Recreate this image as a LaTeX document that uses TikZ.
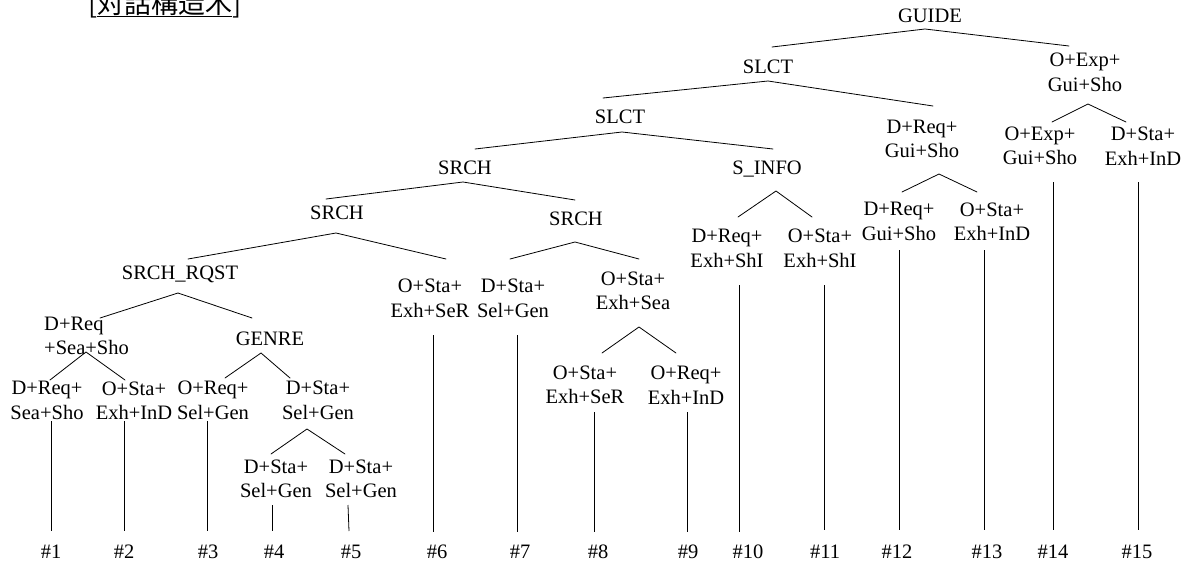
\documentclass[tikz,border=0pt]{standalone}
\usepackage{fontspec}
\setmainfont{Liberation Serif}
\newfontfamily\jpfont{Noto Sans CJK JP}
\begin{document}
\begin{tikzpicture}[x=1pt,y=-1pt,
  lab/.style={font=\fontsize{20.5}{24.5}\selectfont, inner sep=0pt, align=center},
  one/.style={lab, text height=13.6pt, text depth=0pt},
  edge/.style={line width=0.8pt, line cap=round}]
\useasboundingbox (0,0) rectangle (1187,565);

% title
\node[anchor=base west, inner sep=0pt, font=\jpfont\fontsize{27}{30}\selectfont] (title) at (88,13) {[\underline{対話構造木}]};

% inner nodes
\node[one] (guide) at (930,16) {GUIDE};
\node[lab] (oexpa) at (1085,72.5) {O+Exp+\\Gui+Sho};
\node[one] (slcta) at (768,67) {SLCT};
\node[one] (slctb) at (620,117) {SLCT};
\node[lab] (dreqgui) at (922,139) {D+Req+\\Gui+Sho};
\node[one] (srcha) at (465,168) {SRCH};
\node[one] (sinfo) at (767,168) {S\_INFO};
\node[one] (srchb) at (337,213) {SRCH};
\node[one] (srchc) at (576,219) {SRCH};
\node[one] (rqst) at (180,273) {SRCH\_RQST};
\node[lab, align=left, anchor=west] (dreqsea) at (44,336) {D+Req\\+Sea+Sho};
\node[one] (genre) at (270,339) {GENRE};
\node[lab] (ostasea) at (633,291) {O+Sta+\\Exh+Sea};
\node[lab] (dstagen) at (318,400.5) {D+Sta+\\Sel+Gen};

% leaves
\node[lab] (l1) at (47,400.5) {D+Req+\\Sea+Sho};
\node[lab] (l2) at (134,400.5) {O+Sta+\\Exh+InD};
\node[lab] (l3) at (213,400.5) {O+Req+\\Sel+Gen};
\node[lab] (l4) at (276,479) {D+Sta+\\Sel+Gen};
\node[lab] (l5) at (361,479) {D+Sta+\\Sel+Gen};
\node[lab] (l6) at (430,298.5) {O+Sta+\\Exh+SeR};
\node[lab] (l7) at (513,298.5) {D+Sta+\\Sel+Gen};
\node[lab] (l8) at (585,385) {O+Sta+\\Exh+SeR};
\node[lab] (l9) at (686,385) {O+Req+\\Exh+InD};
\node[lab] (l10) at (727,248.5) {D+Req+\\Exh+ShI};
\node[lab] (l11) at (820,248.5) {O+Sta+\\Exh+ShI};
\node[lab] (l12) at (899,221.5) {D+Req+\\Gui+Sho};
\node[lab] (l13) at (992,221.5) {O+Sta+\\Exh+InD};
\node[lab] (l14) at (1040,146) {O+Exp+\\Gui+Sho};
\node[lab] (l15) at (1143,146) {D+Sta+\\Exh+InD};

% numbers
\foreach \n/\x in {1/51,2/124,3/208,4/274,5/351,6/437,7/520,8/598,9/688,10/748,11/825,12/897,13/987,14/1053,15/1137}
  \node[one] (h\n) at (\x,552) {\#\n};

% branch coordinates: apex (a), left end (l), right end (r)
\foreach \nm/\ax/\ay/\lx/\ly/\rx/\ry in {
  guide/925/29/772/47/1069/46,
  slcta/768/81/603/98/933/106,
  oexpa/1088/104/1052/122/1126/122,
  slctb/622/132/475/149/773/149,
  dreqgui/939/174/902/192/977/192,
  srcha/463/182/326/199/575/200,
  sinfo/776/191/738/217/812/217,
  srchb/336/233/188/259/446/259,
  srchc/575/242/510/259/639/259,
  rqst/178/293/100/318/252/318,
  ostasea/639/327/602/353/676/353,
  dreqsea/86/352/50/380/125/380,
  genre/261/353/225/378/290/378,
  dstagen/307/429/271/454/345/454}{
  \coordinate (\nm-a) at (\ax,\ay);
  \coordinate (\nm-l) at (\lx,\ly);
  \coordinate (\nm-r) at (\rx,\ry);
  \draw[edge] (\nm-l) -- (\nm-a) -- (\nm-r);
}

% leaf stems
\foreach \n/\tx/\ty/\bx/\by in {
  1/51/421/51/531, 2/124/421/124/531, 3/207/421/207/531,
  4/272/505/272/531, 5/348/505/349/531,
  6/433/335/433/532, 7/517/335/517/532,
  8/594/412/594/532, 9/687/412/687/532,
  10/739/285/739/532, 11/824/285/824/530,
  12/899/250/899/530, 13/984/250/984/530,
  14/1053/182/1053/530, 15/1138/182/1138/530}{
  \coordinate (s\n-t) at (\tx,\ty);
  \coordinate (s\n-b) at (\bx,\by);
  \draw[line width=0.8pt] (s\n-t) -- (s\n-b);
}
\end{tikzpicture}
\end{document}
